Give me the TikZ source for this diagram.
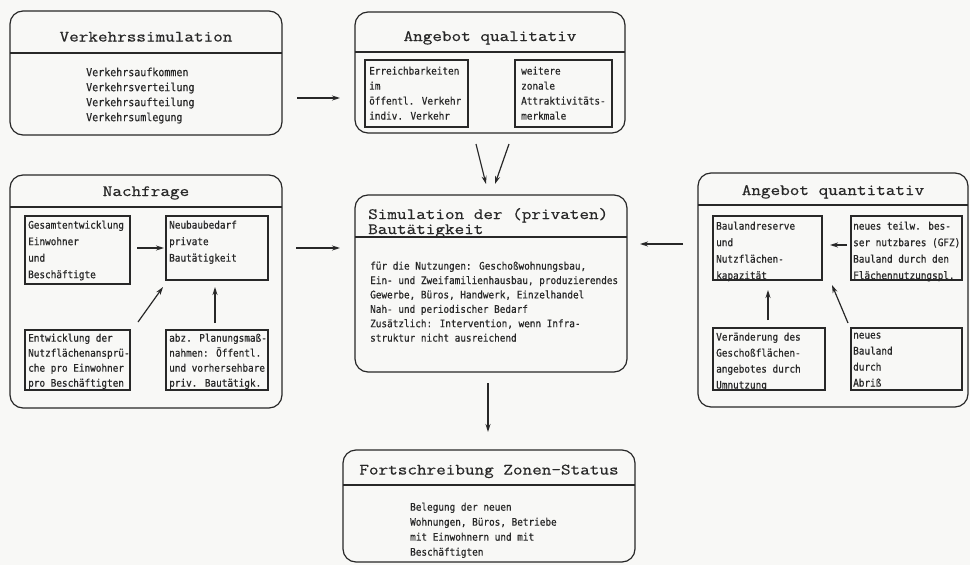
\documentclass[tikz,border=0pt]{standalone}
\usepackage{fontspec}
\setmainfont{DejaVu Sans Mono}
\newfontfamily\headfont{Latin Modern Mono}[FakeStretch=1.18, FakeBold=0.6]
\newfontfamily\bodyfont{DejaVu Sans Mono}[FakeStretch=0.9, FakeBold=0.6]
\usetikzlibrary{arrows.meta}
\definecolor{ink}{RGB}{40,40,40}
\definecolor{paper}{RGB}{248,248,246}

\tikzset{
  panel/.style={draw=ink, line width=1.2pt, rounded corners=13pt, inner sep=0pt, outer sep=0pt, anchor=north west},
  cell/.style={draw=ink, line width=1.3pt, inner sep=0pt, outer sep=0pt, anchor=north west},
  divider/.style={draw=ink, line width=1.2pt},
  heading/.style={font=\headfont\fontsize{15.8}{15.5}\selectfont, text=ink, inner sep=0pt, anchor=base},
  headingleft/.style={heading, anchor=base west},
  body/.style={font=\bodyfont\fontsize{10.4}{15}\selectfont, text=ink, inner sep=0pt, anchor=north west, align=left},
  bodywide/.style={body, font=\bodyfont\fontsize{10.4}{16.5}\selectfont},
  flow/.style={draw=ink, line width=1.2pt, -{Stealth[length=8pt,width=5pt]}},
}

\begin{document}
\begin{tikzpicture}[x=1pt,y=-1pt]
  \useasboundingbox (0,0) rectangle (970,565);
  \fill[paper] (0,0) rectangle (970,565);

  % ---- Verkehrssimulation ----
  \node[panel, minimum width=272, minimum height=124] (vs) at (10,11) {};
  \draw[divider] (vs.west |- 0,53) -- (vs.east |- 0,53);
  \node[heading] (vsT) at (146,41.5) {Verkehrssimulation};
  \node[body, font=\bodyfont\fontsize{11.1}{15}\selectfont] (vsB) at (86,67.5) {Verkehrsaufkommen\\Verkehrsverteilung\\Verkehrsaufteilung\\Verkehrsumlegung};

  % ---- Angebot qualitativ ----
  \node[panel, minimum width=270, minimum height=121] (aq) at (355,12) {};
  \draw[divider] (aq.west |- 0,52) -- (aq.east |- 0,52);
  \node[heading] (aqT) at (490,41) {Angebot qualitativ};
  \node[cell, minimum width=103, minimum height=67] (al) at (365,60) {};
  \node[cell, minimum width=97, minimum height=67] (ar) at (515,60) {};
  \node[body] (alB) at (369,66.5) {Erreichbarkeiten\\im\\öffentl. Verkehr\\indiv. Verkehr};
  \node[body] (arB) at (521,66.5) {weitere\\zonale\\Attraktivitäts-\\merkmale};

  % ---- Nachfrage ----
  \node[panel, minimum width=272, minimum height=233] (nf) at (10,175) {};
  \draw[divider] (nf.west |- 0,207) -- (nf.east |- 0,207);
  \node[heading] (nfT) at (146,196) {Nachfrage};
  \node[cell, minimum width=105, minimum height=68] (ge) at (25,216) {};
  \node[cell, minimum width=102, minimum height=64] (nb) at (166,216) {};
  \node[cell, minimum width=105, minimum height=60] (en) at (25,330) {};
  \node[cell, minimum width=102, minimum height=60] (abz) at (166,330) {};
  \node[bodywide] (geB) at (28,220.5) {Gesamtentwicklung\\Einwohner\\und\\Beschäftigte};
  \node[bodywide] (nbB) at (169,220.5) {Neubaubedarf\\private\\Bautätigkeit};
  \node[body] (enB) at (28,333.5) {Entwicklung der\\Nutzflächenansprü-\\che pro Einwohner\\pro Beschäftigten};
  \node[body] (abzB) at (169,333.5) {abz. Planungsmaß-\\nahmen: Öffentl.\\und vorhersehbare\\priv. Bautätigk.};

  % ---- Simulation der (privaten) Bautaetigkeit ----
  \node[panel, minimum width=272, minimum height=177] (sim) at (355,195) {};
  \draw[divider] (sim.west |- 0,237) -- (sim.east |- 0,237);
  \node[headingleft] (simT1) at (368,219) {Simulation der (privaten)};
  \node[headingleft] (simT2) at (368,234) {Bautätigkeit};
  \node[body, font=\bodyfont\fontsize{10.4}{14.4}\selectfont] (simB) at (370,261.5) {für die Nutzungen: Geschoßwohnungsbau,\\Ein- und Zweifamilienhausbau, produzierendes\\Gewerbe, Büros, Handwerk, Einzelhandel\\Nah- und periodischer Bedarf\\Zusätzlich: Intervention, wenn Infra-\\struktur nicht ausreichend};

  % ---- Angebot quantitativ ----
  \node[panel, minimum width=270, minimum height=234] (aqt) at (698,173) {};
  \draw[divider] (aqt.west |- 0,205) -- (aqt.east |- 0,205);
  \node[heading] (aqtT) at (833,195) {Angebot quantitativ};
  \node[cell, minimum width=109, minimum height=64] (bl) at (713,216) {};
  \node[cell, minimum width=111, minimum height=64] (nt) at (851,216) {};
  \node[cell, minimum width=112, minimum height=62] (vd) at (713,328) {};
  \node[cell, minimum width=111, minimum height=62] (nb2) at (851,328) {};
  \node[bodywide] (blB) at (716,221.5) {Baulandreserve\\und\\Nutzflächen-\\kapazität};
  \node[bodywide] (ntB) at (853,221.5) {neues teilw. bes-\\ser nutzbares (GFZ)\\Bauland durch den\\Flächennutzungspl.};
  \node[body, font=\bodyfont\fontsize{10.4}{16}\selectfont] (vdB) at (716,332.5) {Veränderung des\\Geschoßflächen-\\angebotes durch\\Umnutzung};
  \node[body, font=\bodyfont\fontsize{10.4}{16}\selectfont] (nb2B) at (853,332.5) {neues\\Bauland\\durch\\Abriß};

  % ---- Fortschreibung Zonen-Status ----
  \node[panel, minimum width=292, minimum height=112] (fs) at (343,450) {};
  \draw[divider] (fs.west |- 0,485) -- (fs.east |- 0,485);
  \node[heading] (fsT) at (489,474.5) {Fortschreibung Zonen-Status};
  \node[body] (fsB) at (410,502.5) {Belegung der neuen\\Wohnungen, Büros, Betriebe\\mit Einwohnern und mit\\Beschäftigten};

  % ---- flows between the panels ----
  \draw[flow] ([xshift=15pt,yshift=-25pt]vs.east) -- ([xshift=-15pt,yshift=-25.5pt]aq.west);
  \draw[flow] ([xshift=-14pt,yshift=-11pt]aq.south) -- ([xshift=-5pt,yshift=11pt]sim.north);
  \draw[flow] ([xshift=19pt,yshift=-11pt]aq.south) -- ([xshift=4pt,yshift=11pt]sim.north);
  \draw[flow] ([xshift=14pt,yshift=43.5pt]nf.east) -- ([xshift=-15pt,yshift=35.5pt]sim.west);
  \draw[flow] ([xshift=-15pt,yshift=46pt]aqt.west) -- ([xshift=13pt,yshift=39.5pt]sim.east);
  \draw[flow] ([xshift=-3pt,yshift=-11pt]sim.south) -- ([xshift=-1pt,yshift=18pt]fs.north);

  % ---- flows inside Nachfrage ----
  \draw[flow] ([xshift=7pt,yshift=2pt]ge.east) -- ([xshift=-2pt]nb.west);
  \draw[flow] ([xshift=8pt,yshift=8pt]en.north east) -- ([xshift=-3pt,yshift=-7pt]nb.south west);
  \draw[flow] ([xshift=-2pt,yshift=7pt]abz.north) -- ([xshift=-2pt,yshift=-7pt]nb.south);

  % ---- flows inside Angebot quantitativ ----
  \draw[flow] ([xshift=-4pt,yshift=3pt]nt.west) -- ([xshift=8pt,yshift=3pt]bl.east);
  \draw[flow] ([xshift=-1pt,yshift=8pt]vd.north) -- ([xshift=0.5pt,yshift=-10pt]bl.south);
  \draw[flow] ([xshift=-3pt,yshift=5pt]nb2.north west) -- ([xshift=10pt,yshift=-5pt]bl.south east);
\end{tikzpicture}
\end{document}
